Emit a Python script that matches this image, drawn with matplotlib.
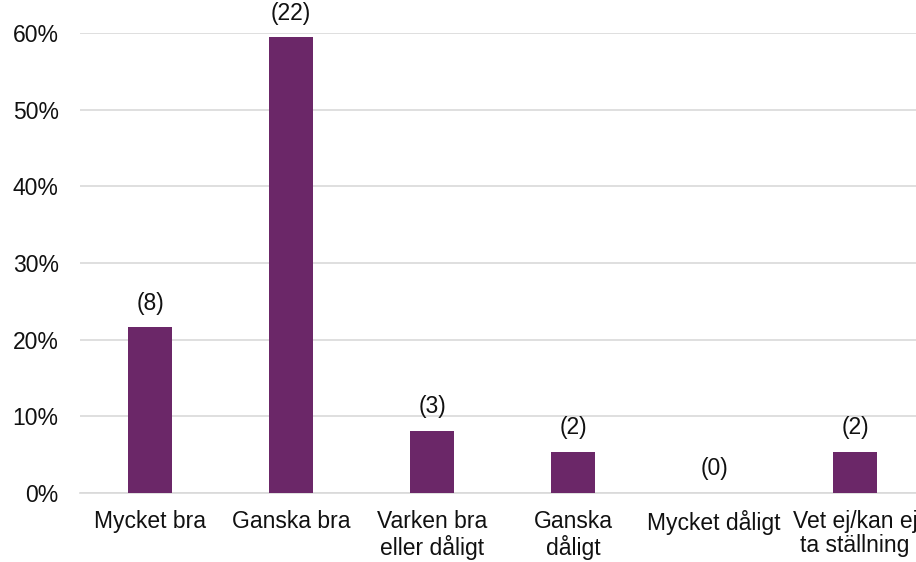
import numpy as np
import matplotlib.pyplot as plt

plt.rcParams['font.family'] = ['Liberation Sans', 'DejaVu Sans']

categories = ["Mycket bra", "Ganska bra", "Varken bra\neller dåligt", "Ganska\ndåligt",
              "Mycket dåligt", "Vet ej/kan ej\nta ställning"]
counts = [8, 22, 3, 2, 0, 2]
total = sum(counts)
shares = [c / total for c in counts]

bar_color = "#6b2768"
grid_color = "#d9d9d9"
fs = 16.5

fig = plt.figure(figsize=(9.16, 5.62), dpi=100)
ax = fig.add_axes([0.0868, 0.1228, 0.9236, 0.8185])

x = np.arange(len(categories))
ax.bar(x, shares, width=0.31, color=bar_color, zorder=3)

for xi, s, c in zip(x, shares, counts):
    ax.annotate(f"({c})", (xi, s), xytext=(0, 9), textcoords="offset points",
                ha="center", va="bottom", fontsize=fs, color="#111111",
                annotation_clip=False)

ax.set_xlim(-0.5, len(categories) - 0.5)
ax.set_ylim(0, 0.6)
ax.set_yticks(np.arange(0, 0.61, 0.1))
ax.set_yticklabels([f"{int(round(v * 100))}%" for v in np.arange(0, 0.61, 0.1)])
ax.set_xticks(x)
ax.set_xticklabels(categories, linespacing=1.1)

ax.grid(axis="y", color=grid_color, linewidth=1.2, zorder=0)
for side in ["top", "right", "left"]:
    ax.spines[side].set_visible(False)
ax.spines["bottom"].set_color(grid_color)
ax.spines["bottom"].set_linewidth(1.2)
ax.tick_params(axis="both", length=0, labelsize=fs, colors="#111111")
ax.tick_params(axis="y", pad=15)
ax.tick_params(axis="x", pad=12)

fig.savefig("out.png", dpi=100)
